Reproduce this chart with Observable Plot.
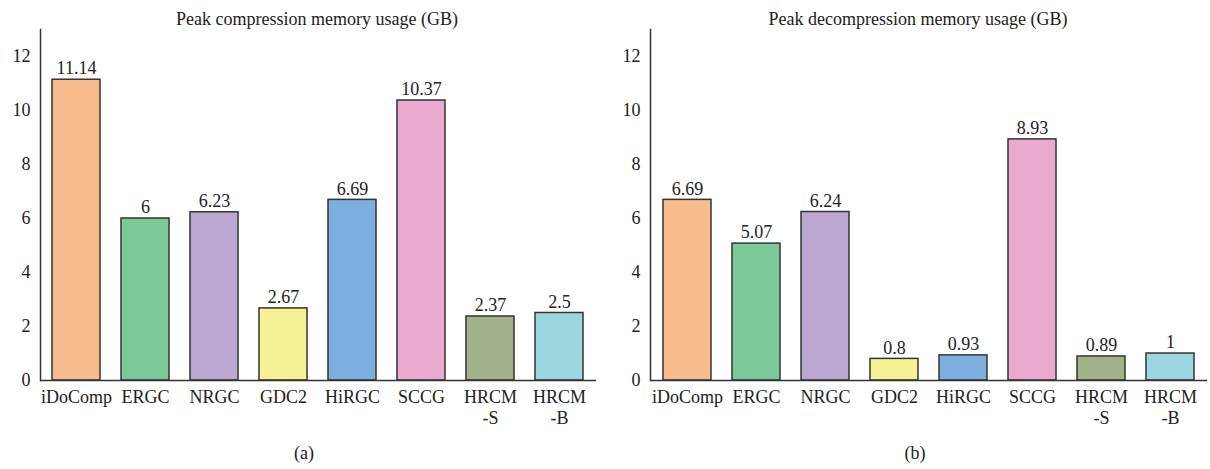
<!DOCTYPE html>
<html><head><meta charset="utf-8">
<script src="https://cdn.jsdelivr.net/npm/d3@7"></script>
<script src="https://cdn.jsdelivr.net/npm/@observablehq/plot@0.6"></script>
<style>
body{margin:0;background:#fff;}
#wrap{position:relative;width:1210px;height:469px;font-family:"Liberation Serif",serif;color:#222;overflow:hidden;}
.panel{position:absolute;top:0;width:605px;height:469px;}
.panel svg{position:absolute;top:0;left:0;}
.panel svg, .panel svg text{font-family:"Liberation Serif",serif !important;}
.title{position:absolute;top:9px;font-size:18px;width:400px;text-align:center;white-space:nowrap;}
.cap{position:absolute;top:443px;font-size:18px;width:100px;text-align:center;}
</style></head><body><div id="wrap"></div>
<script>
const tools = ["iDoComp","ERGC","NRGC","GDC2","HiRGC","SCCG","HRCM-S","HRCM-B"];
const tickLabels = ["iDoComp","ERGC","NRGC","GDC2","HiRGC","SCCG","HRCM\n-S","HRCM\n-B"];
const compression = [11.14, 6, 6.23, 2.67, 6.69, 10.37, 2.37, 2.5];
const decompression = [6.69, 5.07, 6.24, 0.8, 0.93, 8.93, 0.89, 1];
const barColors = ["#f8bc8c","#7bc998","#bba8d2","#f5f296","#7caede","#eaaacd","#a3b18b","#9cd7df"];
const yTicks = [0,2,4,6,8,10,12];
const titles = ["Peak compression memory usage (GB)","Peak decompression memory usage (GB)"];
const captions = ["(a)","(b)"];

const font = '"Liberation Serif", serif';

function makePlot(values, ml, mr) {
  const data = tools.map((t,k)=>({tool:t, value:values[k], color:barColors[k]}));
  return Plot.plot({
    width:605, height:430, marginTop:29, marginBottom:50, marginLeft:ml, marginRight:mr,
    style:{fontFamily:font, fontSize:"18px", color:"#222", background:"transparent", overflow:"visible"},
    x:{domain:tools, paddingInner:0.3, paddingOuter:0.14, label:null},
    y:{domain:[0,13], label:null},
    color:{type:"identity"},
    marks:[
      Plot.barY(data,{x:"tool", y:"value", fill:"color", stroke:"#333", strokeWidth:1.5}),
      Plot.frame({anchor:"left", stroke:"#333", strokeWidth:1.5}),
      Plot.ruleY([0],{stroke:"#333", strokeWidth:1.5}),
      Plot.axisY({ticks:yTicks, tickSize:0, tickPadding:10, label:null, fontSize:18}),
      Plot.axisX({tickSize:0, tickPadding:7, label:null, fontSize:18, lineHeight:1.2,
                  tickFormat:d=>tickLabels[tools.indexOf(d)]}),
      Plot.text(data,{x:"tool", y:"value", text:d=>String(d.value), dy:-11, fontSize:18})
    ]
  });
}

const wrap = document.getElementById("wrap");
const specs = [
  {values:compression, left:0, ml:40, mr:9, titleC:317, capC:304},
  {values:decompression, left:605, ml:45, mr:3, titleC:313, capC:310}
];
specs.forEach((s,i)=>{
  const p = document.createElement("div");
  p.className = "panel";
  p.style.left = s.left + "px";
  p.appendChild(makePlot(s.values, s.ml, s.mr));
  const t = document.createElement("div");
  t.className = "title"; t.textContent = titles[i];
  t.style.left = (s.titleC - 200) + "px";
  p.appendChild(t);
  const c = document.createElement("div");
  c.className = "cap"; c.textContent = captions[i];
  c.style.left = (s.capC - 50) + "px";
  p.appendChild(c);
  wrap.appendChild(p);
});
</script></body></html>
